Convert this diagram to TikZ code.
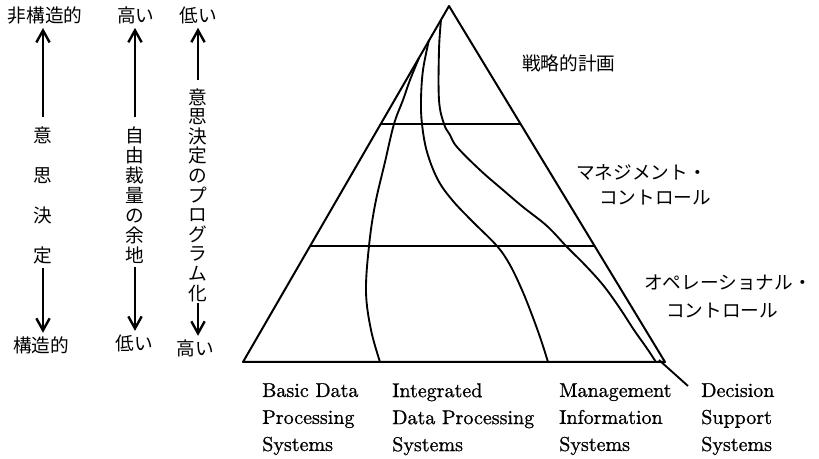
\documentclass[tikz,border=0pt]{standalone}
\usepackage{fontspec}
\newfontfamily\cjk{Noto Sans CJK JP}
\newfontfamily\enfont{lmroman10-regular.otf}[FakeBold=0.9]
\usetikzlibrary{arrows.meta,calc}
\tikzset{
  edge/.style={line width=1.5pt, line join=round},
  curve/.style={line width=1.4pt},
  jp/.style={font=\cjk\fontsize{14}{17}\selectfont, inner sep=0pt},
  en/.style={font=\enfont\fontsize{15}{20.25}\selectfont, align=left, inner sep=0pt, anchor=north west},
  axisarrow/.style={line width=2pt, -{Straight Barb[length=9pt,width=10pt,line width=1.8pt]}},
}
\begin{document}
\begin{tikzpicture}[x=0.75pt,y=-0.75pt]
\useasboundingbox (0,0) rectangle (819,459);

% ---------- left scales ----------
\node[jp] (t1) at (45,15) {非構造的};
\node[jp] (t2) at (136,15) {高い};
\node[jp] (t3) at (198,15) {低い};
\node[jp] (b1) at (41,345) {構造的};
\node[jp] (b2) at (134,343) {低い};
\node[jp] (b3) at (195,348) {高い};
\node[jp, align=center, font=\cjk\fontsize{14}{30}\selectfont] (v1) at (43,195) {意\\思\\決\\定};
\node[jp, align=center, font=\cjk\fontsize{14}{15}\selectfont] (v2) at (135,195) {自\\由\\裁\\量\\の\\余\\地};
\node[jp, align=center, font=\cjk\fontsize{14}{14.7}\selectfont] (v3) at (198,195) {意\\思\\決\\定\\の\\プ\\ロ\\グ\\ラ\\ム\\化};

\draw[axisarrow, shorten <=7pt, shorten >=3pt] (v1.north) -- (v1.north |- t1.south);
\draw[axisarrow, shorten <=3.2pt, shorten >=2.5pt] (v1.south) -- (v1.south |- b1.north);
\draw[axisarrow, shorten <=7pt, shorten >=3pt] (v2.north) -- (v2.north |- t2.south);
\draw[axisarrow, shorten <=2.5pt, shorten >=2.5pt] (v2.south) -- (v2.south |- b2.north);
\draw[axisarrow, shorten <=6pt, shorten >=3pt] (v3.north) -- (v3.north |- t3.south);
\draw[axisarrow, shorten <=1.2pt, shorten >=2.5pt] (v3.south) -- (v3.south |- b3.north);

% ---------- pyramid ----------
\coordinate (apex) at (449,6);
\coordinate (bl) at (243,362);
\coordinate (br) at (665,362);
\draw[edge] (apex) -- (bl) -- (br) -- cycle;
\coordinate (u1) at ($(apex)!0.3315!(bl)$);
\coordinate (u2) at ($(apex)!0.3315!(br)$);
\coordinate (l1) at ($(apex)!0.674!(bl)$);
\coordinate (l2) at ($(apex)!0.674!(br)$);
\draw[edge] (u1) -- (u2);
\draw[edge] (l1) -- (l2);

% dividing curves
\draw[curve] plot[smooth, tension=0.6] coordinates {(419,58) (410,80) (403,100) (394,124) (385,162) (375,205) (369,246) (366,292) (371,330) (380,362)};
\draw[curve] plot[smooth, tension=0.6] coordinates {(429,40) (423,70) (421,100) (422,124) (427,152) (438,180) (453,201) (473,222) (497,246) (510,265) (522,290) (532,315) (541,340) (548,362)};
\draw[curve] plot[smooth, tension=0.6] coordinates {(441,20) (439,50) (439,100) (444,124) (450,135) (457,147) (480,170) (503,190) (523,207) (547,226) (567,247) (585,265) (603,285) (619,307) (634,330) (646,347) (656,362)};

% ---------- level labels ----------
\node[jp, anchor=west] (sp) at (522,63) {戦略的計画};
\node[jp, anchor=west] (mc1) at (576,172) {マネジメント・};
\node[jp, anchor=west] (mc2) at (599,198) {コントロール};
\node[jp, anchor=west] (oc1) at (644,283) {オペレーショナル・};
\node[jp, anchor=west] (oc2) at (666,311) {コントロール};

% ---------- system labels ----------
\node[en] (bdp) at (262,383) {Basic Data\\Processing\\Systems};
\node[en] (idp) at (392,383) {Integrated\\Data Processing\\Systems};
\node[en] (mis) at (559,383) {Management\\Information\\Systems};
\node[en] (dss) at (701,383) {Decision\\Support\\Systems};

\coordinate (dsstip) at (659,360);
\coordinate (lead) at (688,386);
\draw[line width=1.4pt] (dsstip) -- (lead);
\end{tikzpicture}
\end{document}
